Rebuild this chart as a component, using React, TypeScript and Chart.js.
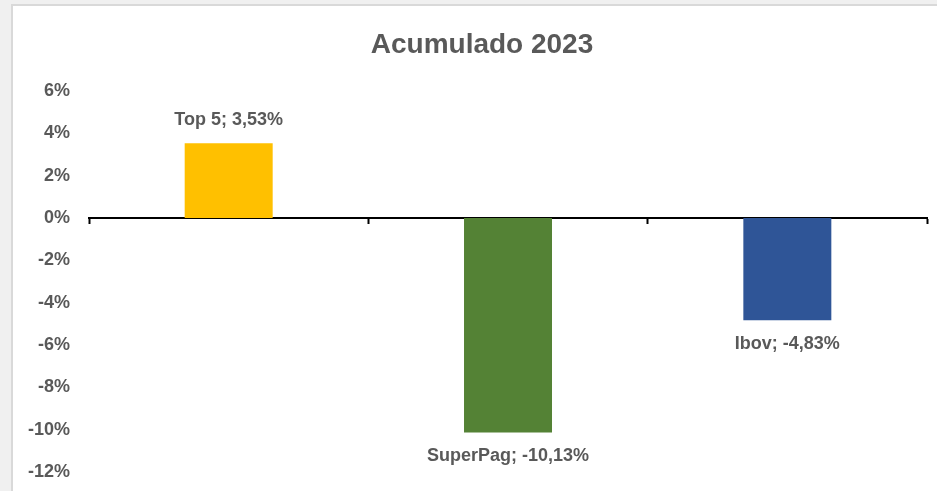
import React, { useEffect, useRef } from "react";
import { Chart, registerables } from "chart.js";

Chart.register(...registerables);

const categories = ["Top 5", "SuperPag", "Ibov"];
const values = [3.53, -10.13, -4.83];
const barColors = ["#FFC000", "#548235", "#2F5597"];
const yTicks = { min: -12, max: 6, step: 2 };
const titleText = "Acumulado 2023";

const FONT = "'Liberation Sans', Arial, sans-serif";
const TEXT_COLOR = "#595959";

const fmt = (v: number) => v.toFixed(2).replace(".", ",") + "%";

const labelsPlugin = {
  id: "barLabels",
  afterDatasetsDraw(chart: any) {
    const ctx = chart.ctx;
    const meta = chart.getDatasetMeta(0);
    ctx.save();
    ctx.font = `bold 18px ${FONT}`;
    ctx.fillStyle = TEXT_COLOR;
    ctx.textAlign = "center";
    ctx.textBaseline = "middle";
    meta.data.forEach((bar: any, i: number) => {
      const v = values[i];
      const text = `${categories[i]}; ${fmt(v)}`;
      const y = v >= 0 ? bar.y - 23 : bar.y + 24;
      ctx.fillText(text, bar.x, y);
    });
    ctx.restore();
  },
};

const titlePlugin = {
  id: "customTitle",
  afterDraw(chart: any) {
    const ctx = chart.ctx;
    ctx.save();
    ctx.font = `bold 28px ${FONT}`;
    ctx.fillStyle = TEXT_COLOR;
    ctx.textAlign = "center";
    ctx.textBaseline = "middle";
    ctx.fillText(titleText, 482, 44.8);
    ctx.restore();
  },
};

export default function App() {
  const ref = useRef<HTMLCanvasElement | null>(null);

  useEffect(() => {
    if (!ref.current) return;
    const chart = new Chart(ref.current, {
      type: "bar",
      data: {
        labels: categories,
        datasets: [
          {
            data: values,
            backgroundColor: barColors,
            borderWidth: 0,
            categoryPercentage: 1,
            barPercentage: 0.315,
          },
        ],
      },
      options: {
        animation: false,
        responsive: false,
        maintainAspectRatio: false,
        layout: { padding: { top: 91, left: 17, right: 10, bottom: 19 } },
        plugins: {
          legend: { display: false },
          tooltip: { enabled: false },
          title: { display: false },
        },
        scales: {
          x: {
            type: "category",
            position: { y: 0 } as any,
            offset: true,
            grid: {
              display: true,
              offset: true,
              drawOnChartArea: false,
              drawTicks: true,
              tickLength: 5,
              tickWidth: 2,
              tickColor: "#000000",
              color: "#000000",
            },
            border: { display: true, color: "#000000", width: 2 },
            ticks: { display: false },
          },
          y: {
            min: yTicks.min,
            max: yTicks.max,
            afterFit: (scale: any) => {
              scale.paddingBottom = 0;
            },
            ticks: {
              stepSize: yTicks.step,
              color: TEXT_COLOR,
              padding: 11,
              font: { family: FONT, size: 18, weight: "bold" },
              callback: (v: any) => `${v}%`,
            },
            grid: { display: false },
            border: { display: false },
          },
        },
      },
      plugins: [labelsPlugin, titlePlugin],
    });
    return () => chart.destroy();
  }, []);

  return (
    <div
      style={{
        position: "fixed",
        left: 0,
        top: 0,
        width: 937,
        height: 491,
        background: "#f0f0f0",
        overflow: "hidden",
      }}
    >
      <div
        style={{
          position: "absolute",
          left: 11,
          top: 4,
          width: 940,
          height: 500,
          background: "#ffffff",
          borderLeft: "2px solid #d9d9d9",
          borderTop: "2px solid #d9d9d9",
        }}
      />
      <canvas
        ref={ref}
        width={937}
        height={491}
        style={{ position: "absolute", left: 0, top: 0, width: 937, height: 491 }}
      />
    </div>
  );
}
